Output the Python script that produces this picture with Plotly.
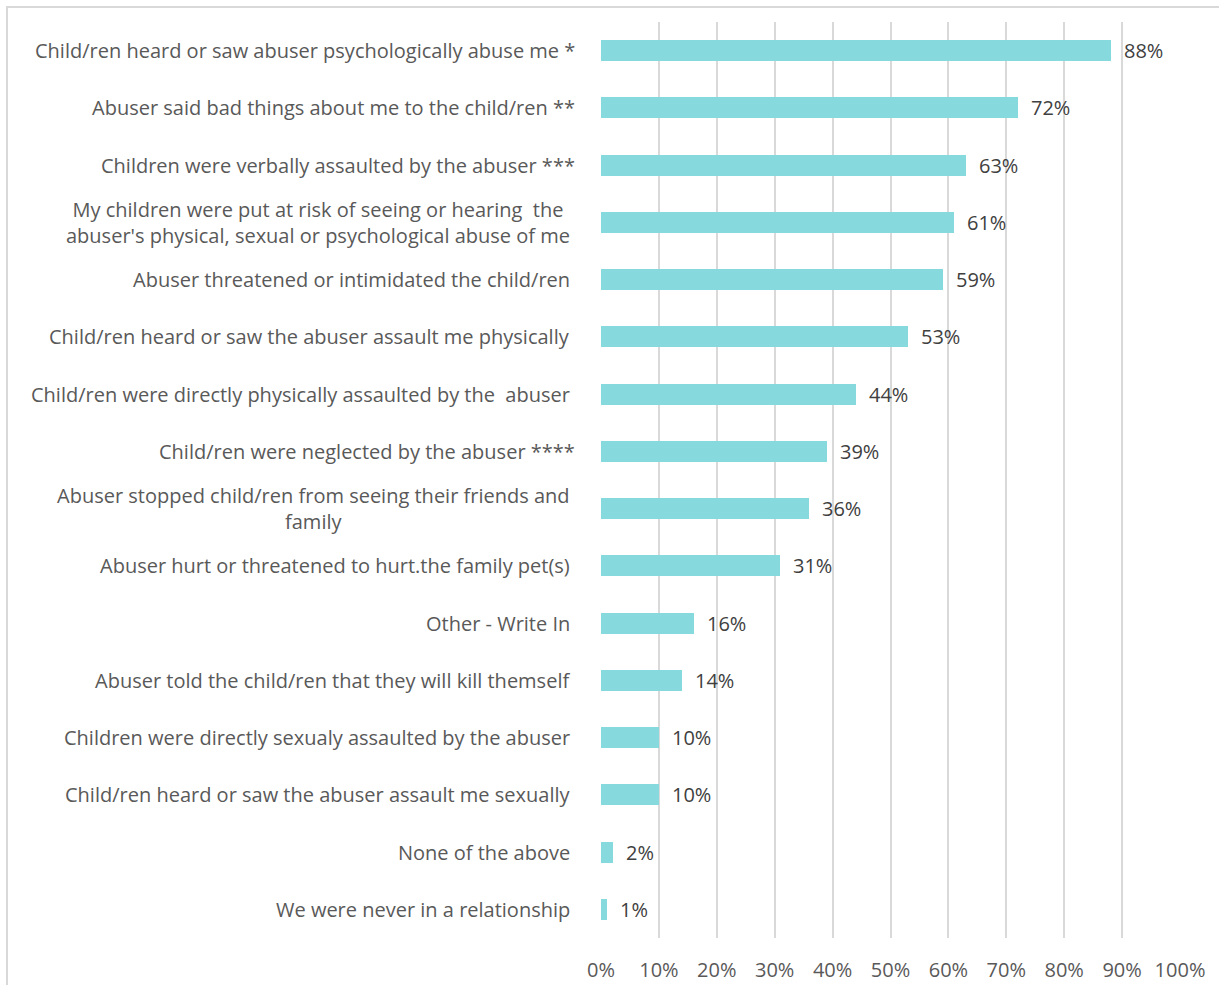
import plotly.graph_objects as go

# Survey responses: what the children experienced (percent of respondents)
categories = [
    "Child/ren heard or saw abuser psychologically abuse me *",
    "Abuser said bad things about me to the child/ren **",
    "Children were verbally assaulted by the abuser ***",
    "My children were put at risk of seeing or hearing  the<br>abuser's physical, sexual or psychological abuse of me",
    "Abuser threatened or intimidated the child/ren",
    "Child/ren heard or saw the abuser assault me physically",
    "Child/ren were directly physically assaulted by the  abuser",
    "Child/ren were neglected by the abuser ****",
    "Abuser stopped child/ren from seeing their friends and<br>family",
    "Abuser hurt or threatened to hurt.the family pet(s)",
    "Other - Write In",
    "Abuser told the child/ren that they will kill themself",
    "Children were directly sexualy assaulted by the abuser",
    "Child/ren heard or saw the abuser assault me sexually",
    "None of the above",
    "We were never in a relationship",
]
values = [88, 72, 63, 61, 59, 53, 44, 39, 36, 31, 16, 14, 10, 10, 2, 1]
x_ticks = list(range(0, 101, 10))

W, H = 1219, 985
M_L, M_R, M_T, M_B = 601, 39, 22, 47
plot_w = W - M_L - M_R
plot_h = H - M_T - M_B

FONT = "'Open Sans', Calibri, sans-serif"
FS = 20
BAR = "#86DADE"
GRID = "#D9D9D9"

fig = go.Figure(
    go.Bar(
        x=values,
        y=list(range(len(categories))),
        orientation="h",
        width=0.37,
        marker=dict(color=BAR, line=dict(width=0)),
        hoverinfo="skip",
    )
)

# value labels to the right of each bar
for i, v in enumerate(values):
    fig.add_annotation(
        x=v, y=i, xref="x", yref="y",
        text=f"{v}%", showarrow=False,
        xanchor="left", yanchor="middle", xshift=11,
        font=dict(family=FONT, size=FS, color="#404040"),
    )

# category labels, right-aligned against the axis, multi-line text centred
for i, c in enumerate(categories):
    gap = 26 if c.endswith("*") else 31
    fig.add_annotation(
        x=0, y=i, xref="x", yref="y",
        text=c, showarrow=False, align="center",
        xanchor="right", yanchor="middle", xshift=-gap + 2,
        font=dict(family=FONT, size=FS, color="#595959"),
    )

# outer chart frame (left and top edges visible)
def px_to_paper_x(px):
    return (px - M_L) / plot_w

def px_to_paper_y(py):
    return 1 - (py - M_T) / plot_h

fig.add_shape(
    type="rect", xref="paper", yref="paper",
    x0=px_to_paper_x(7), x1=px_to_paper_x(W + 10),
    y0=px_to_paper_y(H + 10), y1=px_to_paper_y(7),
    line=dict(color=GRID, width=2), fillcolor="rgba(0,0,0,0)", layer="below",
)

fig.update_layout(
    width=W, height=H,
    margin=dict(l=M_L, r=M_R, t=M_T, b=M_B, autoexpand=False),
    paper_bgcolor="white", plot_bgcolor="white",
    showlegend=False,
    bargap=0,
    xaxis=dict(
        range=[0, 100], tickvals=x_ticks, ticktext=[f"{t}%" for t in x_ticks],
        showgrid=True, gridcolor=GRID, gridwidth=2,
        zeroline=False, showline=False, ticks="",
        ticklabelstandoff=18, automargin=False,
        tickfont=dict(family=FONT, size=FS, color="#595959"),
        fixedrange=True,
    ),
    yaxis=dict(
        range=[len(categories) - 0.5, -0.5], automargin=False,
        showticklabels=False, showgrid=False, zeroline=False,
        showline=False, ticks="", fixedrange=True,
    ),
)

fig.write_html("out.html")
